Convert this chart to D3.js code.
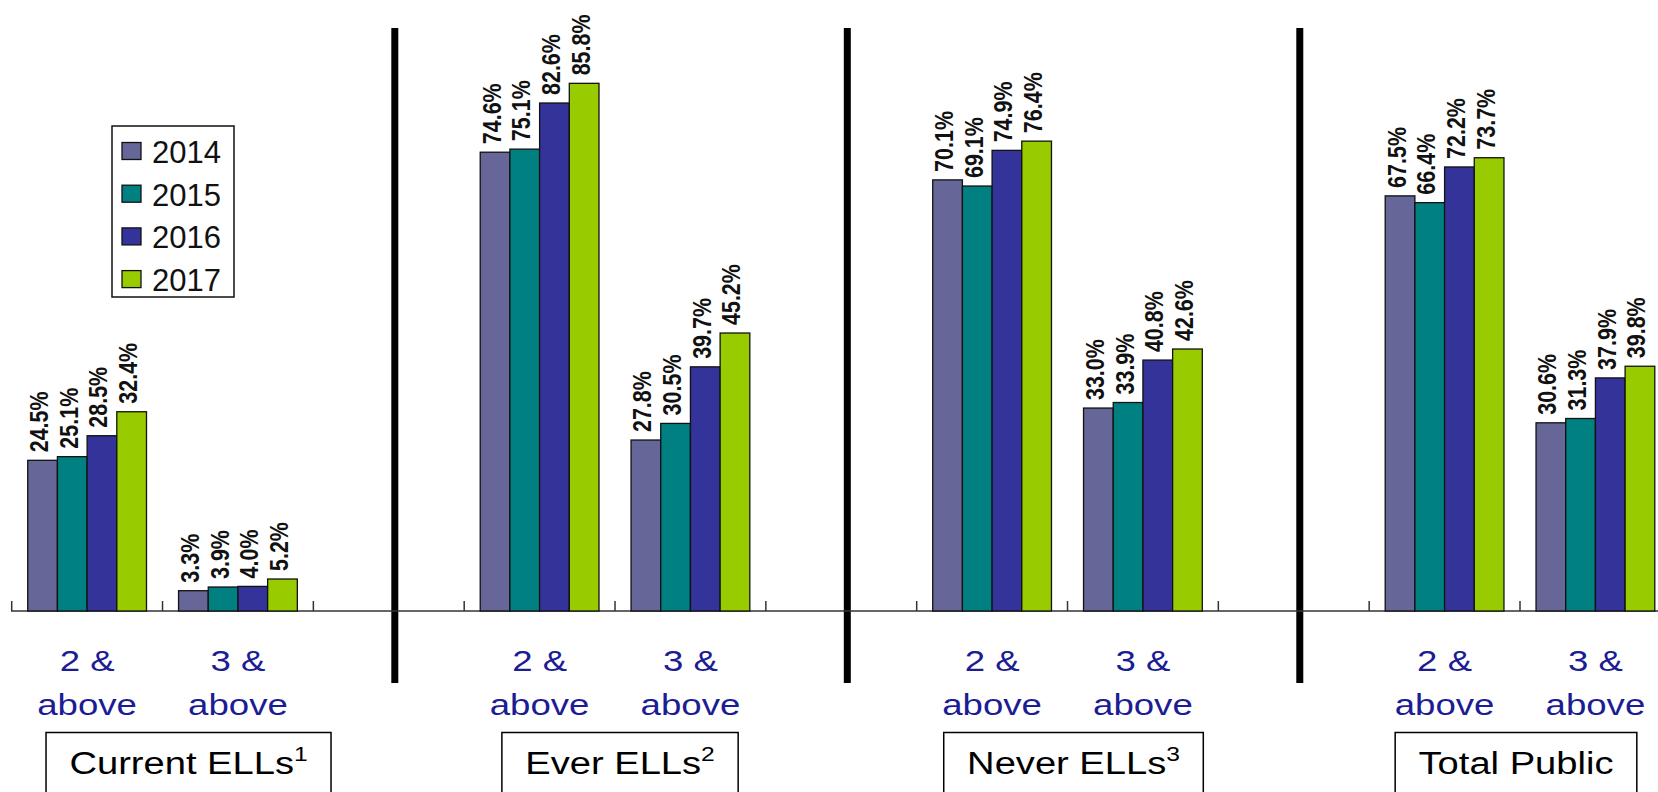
<!DOCTYPE html>
<html>
<head>
<meta charset="utf-8">
<script src="https://cdn.jsdelivr.net/npm/d3@7"></script>
<style>
  html, body { margin: 0; padding: 0; background: #fff; }
  svg { display: block; }
  text { font-family: "Liberation Sans", Arial, sans-serif; }
</style>
</head>
<body>
<svg id="chart" width="1658" height="792"></svg>
<script>
// ---------- data ----------
const groups = ["Current ELLs", "Ever ELLs", "Never ELLs", "Total Public"];
const groupNotes = ["1", "2", "3", ""];
const levels = ["2 &", "3 &"];
const levelLine2 = "above";
const years = ["2014", "2015", "2016", "2017"];
// order: Current 2&,3& | Ever 2&,3& | Never 2&,3& | Total 2&,3&
const values2014 = [24.5, 3.3, 74.6, 27.8, 70.1, 33.0, 67.5, 30.6];
const values2015 = [25.1, 3.9, 75.1, 30.5, 69.1, 33.9, 66.4, 31.3];
const values2016 = [28.5, 4.0, 82.6, 39.7, 74.9, 40.8, 72.2, 37.9];
const values2017 = [32.4, 5.2, 85.8, 45.2, 76.4, 42.6, 73.7, 39.8];
const seriesValues = [values2014, values2015, values2016, values2017];
const colors = ["#666699", "#008080", "#333399", "#99CC00"];

// ---------- layout ----------
const svg = d3.select("#chart");
const baseY = 611;
const labelBoxShift = [26, 5, 6, -4];
const sepFrac = 0.54;

// slots: each group has 2 categories + 1 empty gap slot
const slots = [];
groups.forEach((g, gi) => {
  levels.forEach((l, li) => slots.push({ id: gi + "-" + li, group: gi, level: li, idx: gi * 2 + li }));
  slots.push({ id: "gap" + gi, gap: true, group: gi });
});
const slotIds = slots.map(s => s.id);

const x = d3.scaleBand().domain(slotIds).range([11.7, 11.7 + slotIds.length * 150.83]).padding(0);
const xi = d3.scaleBand().domain(years).range([0, x.bandwidth()]).paddingInner(0).paddingOuter(0.54);
const y = d3.scaleLinear().domain([0, 100]).range([baseY, baseY - 615]);

const catSlots = slots.filter(s => !s.gap);

// separators (thick black lines in gap slots)
slots.filter(s => s.gap && s.group < groups.length - 1).forEach(s => {
  svg.append("line")
    .attr("x1", x(s.id) + x.bandwidth() * sepFrac).attr("x2", x(s.id) + x.bandwidth() * sepFrac)
    .attr("y1", 28).attr("y2", 683)
    .attr("stroke", "#000").attr("stroke-width", 7);
});

// axis line + ticks
svg.append("line").attr("x1", 11).attr("x2", 1658).attr("y1", baseY).attr("y2", baseY)
  .attr("stroke", "#333").attr("stroke-width", 1.5);
const tickXs = slotIds.map(id => x(id));
svg.selectAll("line.tick").data(tickXs).join("line").attr("class", "tick")
  .attr("x1", d => d).attr("x2", d => d).attr("y1", baseY).attr("y2", baseY - 10)
  .attr("stroke", "#333").attr("stroke-width", 1.5);

// bars
years.forEach((yr, yi) => {
  const g = svg.append("g");
  g.selectAll("rect").data(catSlots).join("rect")
    .attr("x", s => x(s.id) + xi(yr))
    .attr("y", s => y(seriesValues[yi][s.idx]))
    .attr("width", xi.bandwidth())
    .attr("height", s => baseY - y(seriesValues[yi][s.idx]))
    .attr("fill", colors[yi]).attr("stroke", "#111").attr("stroke-width", 1.3);
  g.selectAll("text").data(catSlots).join("text")
    .attr("transform", s => {
      const cx = x(s.id) + xi(yr) + xi.bandwidth() / 2 + 5.5;
      const ty = y(seriesValues[yi][s.idx]) - 8;
      return `translate(${cx},${ty}) scale(1.2,1) rotate(-90)`;
    })
    .attr("font-size", 21.5).attr("font-weight", "bold").attr("fill", "#111")
    .text(s => seriesValues[yi][s.idx].toFixed(1) + "%");
});

// category labels
catSlots.forEach(s => {
  const cx = x(s.id) + x.bandwidth() / 2;
  const t = svg.append("g").attr("transform", `translate(${cx},0) scale(1.22,1)`);
  t.append("text").attr("x", 0).attr("y", 671.5).attr("text-anchor", "middle")
    .attr("font-size", 30).attr("fill", "#1c1c94").text(levels[s.level]);
  t.append("text").attr("x", 0).attr("y", 715).attr("text-anchor", "middle")
    .attr("font-size", 30).attr("fill", "#1c1c94").text(levelLine2);
});

// group labels in boxes
groups.forEach((gname, gi) => {
  const cx = x(gi + "-1") + labelBoxShift[gi];
  const g = svg.append("g").attr("transform", `translate(${cx},0) scale(1.23,1)`);
  const txt = g.append("text").attr("x", 0).attr("y", 774).attr("text-anchor", "middle")
    .attr("font-size", 31).attr("fill", "#000");
  txt.append("tspan").text(gname);
  if (groupNotes[gi]) txt.append("tspan").attr("font-size", 20).attr("dy", -13).text(groupNotes[gi]);
  const bb = txt.node().getBBox();
  g.insert("rect", "text")
    .attr("x", bb.x - 19).attr("y", 732.5).attr("width", bb.width + 38).attr("height", 80)
    .attr("fill", "#fff").attr("stroke", "#000").attr("stroke-width", 1.5)
    .attr("vector-effect", "non-scaling-stroke");
});

// legend
const lg = svg.append("g");
lg.append("rect").attr("x", 112).attr("y", 126).attr("width", 122).attr("height", 171)
  .attr("fill", "#fff").attr("stroke", "#111").attr("stroke-width", 1.5);
years.forEach((yr, i) => {
  const cy = 151 + i * 42.7;
  lg.append("rect").attr("x", 122).attr("y", cy - 8.5).attr("width", 19).attr("height", 17)
    .attr("fill", colors[i]).attr("stroke", "#111").attr("stroke-width", 1.3);
  lg.append("text").attr("x", 152).attr("y", cy + 12).attr("font-size", 31).attr("fill", "#111").text(yr);
});
</script>
</body>
</html>
